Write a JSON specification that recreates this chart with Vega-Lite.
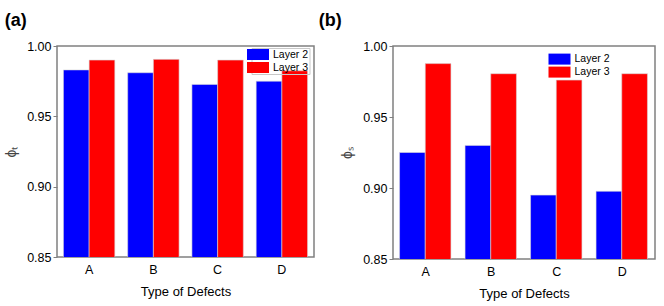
{
  "$schema": "https://vega.github.io/schema/vega-lite/v6.json",
  "padding": {"left": 3, "top": 11, "right": 5, "bottom": 5},
  "background": "white",
  "config": {
    "font": "Liberation Sans",
    "view": {"stroke": "#808080", "strokeWidth": 1.5},
    "axis": {"grid": false, "labelColor": "black", "titleColor": "black", "labelFont": "Liberation Sans", "titleFont": "Liberation Sans", "domainColor": "#808080", "tickColor": "#808080", "labelFontSize": 12.5, "titleFontSize": 13, "titleFontWeight": "normal"},
    "legend": {"labelFont": "Liberation Sans", "labelFontSize": 10.5, "labelColor": "black", "title": null},
    "title": {"font": "Liberation Sans", "fontSize": 18, "fontWeight": "bold", "anchor": "start", "color": "black"}
  },
  "datasets": {
    "a": [
      {"defect": "A", "layer": "Layer 2", "value": 0.983},
      {"defect": "A", "layer": "Layer 3", "value": 0.990},
      {"defect": "B", "layer": "Layer 2", "value": 0.981},
      {"defect": "B", "layer": "Layer 3", "value": 0.9905},
      {"defect": "C", "layer": "Layer 2", "value": 0.9727},
      {"defect": "C", "layer": "Layer 3", "value": 0.990},
      {"defect": "D", "layer": "Layer 2", "value": 0.975},
      {"defect": "D", "layer": "Layer 3", "value": 0.9824}
    ],
    "b": [
      {"defect": "A", "layer": "Layer 2", "value": 0.925},
      {"defect": "A", "layer": "Layer 3", "value": 0.9876},
      {"defect": "B", "layer": "Layer 2", "value": 0.930},
      {"defect": "B", "layer": "Layer 3", "value": 0.9805},
      {"defect": "C", "layer": "Layer 2", "value": 0.895},
      {"defect": "C", "layer": "Layer 3", "value": 0.976},
      {"defect": "D", "layer": "Layer 2", "value": 0.8977},
      {"defect": "D", "layer": "Layer 3", "value": 0.9805}
    ]
  },
  "resolve": {"scale": {"color": "independent"}, "legend": {"color": "independent"}},
  "spacing": 2,
  "hconcat": [
    {
      "data": {"name": "a"},
      "width": 257,
      "height": 211,
      "title": {"text": "(a)", "offset": 10, "frame": "bounds"},
      "mark": {"type": "bar", "clip": true, "stroke": "#d8d8d8", "strokeWidth": 0.6},
      "encoding": {
        "x": {"field": "defect", "type": "nominal", "scale": {"paddingInner": 0.2, "paddingOuter": 0.1}, "axis": {"title": "Type of Defects", "labelAngle": 0, "ticks": false, "labelPadding": 6, "titlePadding": 10, "domain": false}},
        "xOffset": {"field": "layer", "type": "nominal"},
        "y": {"field": "value", "type": "quantitative", "scale": {"domain": [0.85, 1.0], "zero": false, "nice": false}, "axis": {"title": "ϕₜ", "titleFontSize": 14, "titleColor": "#444444", "values": [0.85, 0.9, 0.95, 1.0], "format": ".2f", "tickSize": 4, "domain": false, "titlePadding": 8}},
        "color": {"field": "layer", "type": "nominal", "scale": {"domain": ["Layer 2", "Layer 3"], "range": ["#0000ff", "#ff0000"]}, "legend": {"orient": "none", "legendX": 194.5, "legendY": 2, "symbolType": "M-2,-1H2V1H-2Z", "symbolSize": 121, "symbolStrokeWidth": 0, "rowPadding": 2, "labelOffset": 9.5, "padding": 1, "strokeColor": "#c8c8c8"}}
      }
    },
    {
      "data": {"name": "b"},
      "width": 262,
      "height": 213,
      "title": {"text": "(b)", "offset": 10, "frame": "bounds", "dx": -22},
      "mark": {"type": "bar", "clip": true, "stroke": "#d8d8d8", "strokeWidth": 0.6},
      "encoding": {
        "x": {"field": "defect", "type": "nominal", "scale": {"paddingInner": 0.2, "paddingOuter": 0.1}, "axis": {"title": "Type of Defects", "labelAngle": 0, "ticks": false, "labelPadding": 6, "titlePadding": 10, "domain": false}},
        "xOffset": {"field": "layer", "type": "nominal"},
        "y": {"field": "value", "type": "quantitative", "scale": {"domain": [0.85, 1.0], "zero": false, "nice": false}, "axis": {"title": "ϕₛ", "titleFontSize": 14, "titleColor": "#444444", "values": [0.85, 0.9, 0.95, 1.0], "format": ".2f", "tickSize": 4, "domain": false, "titlePadding": 8}},
        "color": {"field": "layer", "type": "nominal", "scale": {"domain": ["Layer 2", "Layer 3"], "range": ["#0000ff", "#ff0000"]}, "legend": {"orient": "none", "legendX": 160, "legendY": 6.6, "symbolType": "M-2,-1H2V1H-2Z", "symbolSize": 121, "symbolStrokeWidth": 0, "rowPadding": 2, "labelOffset": 9.5, "padding": 1}}
      }
    }
  ]
}
